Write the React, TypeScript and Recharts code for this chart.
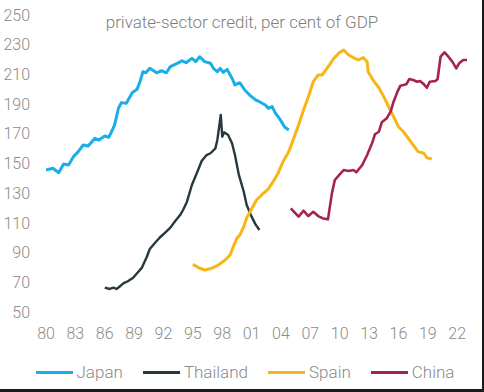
import React from 'react';
import { LineChart, Line, XAxis, YAxis, Legend } from 'recharts';

const title = 'private-sector credit, per cent of GDP';

const xTicks = [1980, 1983, 1986, 1989, 1992, 1995, 1998, 2001, 2004, 2007, 2010, 2013, 2016, 2019, 2022];
const yTicks = [50, 70, 90, 110, 130, 150, 170, 190, 210, 230, 250];

const japanYears = [1980.0, 1980.7, 1981.3, 1981.8, 1982.3, 1982.8, 1983.3, 1983.8, 1984.3, 1985.0, 1985.4, 1986.0, 1986.4, 1986.7, 1987.0, 1987.4, 1987.7, 1988.2, 1988.8, 1989.3, 1989.6, 1989.9, 1990.2, 1990.6, 1991.3, 1991.8, 1992.3, 1992.7, 1993.4, 1993.9, 1994.3, 1994.9, 1995.3, 1995.7, 1996.2, 1996.8, 1997.1, 1997.5, 1997.8, 1998.1, 1998.5, 1999.0, 1999.3, 1999.8, 2000.3, 2000.8, 2001.4, 2001.8, 2002.4, 2002.7, 2003.1, 2003.4, 2003.9, 2004.4, 2004.8];
const japanValues = [145.6, 146.8, 143.8, 149.7, 149.0, 154.6, 158.0, 162.5, 161.8, 167.0, 165.8, 168.5, 167.6, 171.4, 175.9, 187.2, 191.0, 190.5, 197.7, 200.0, 205.1, 211.8, 211.1, 214.1, 211.1, 212.5, 211.1, 215.2, 217.4, 219.2, 217.9, 220.8, 218.6, 221.9, 218.6, 217.5, 214.1, 211.8, 214.1, 211.4, 213.4, 207.4, 202.9, 204.4, 199.5, 196.1, 192.8, 191.6, 189.4, 187.2, 188.3, 184.2, 179.7, 174.4, 172.6];

const thailandYears = [1986.0, 1986.5, 1986.9, 1987.2, 1987.5, 1987.9, 1988.4, 1988.9, 1989.3, 1989.8, 1990.3, 1990.6, 1991.1, 1991.6, 1992.2, 1992.7, 1993.2, 1993.7, 1994.0, 1994.4, 1994.9, 1995.4, 1995.9, 1996.4, 1996.8, 1997.3, 1997.5, 1997.85, 1998.0, 1998.2, 1998.6, 1999.0, 1999.3, 1999.7, 2000.2, 2000.5, 2001.0, 2001.4, 2001.8];
const thailandValues = [66.4, 65.5, 66.4, 65.5, 67.0, 69.3, 70.9, 73.1, 76.1, 79.9, 87.2, 92.4, 96.3, 100.0, 103.7, 106.8, 111.3, 115.3, 118.7, 124.3, 135.5, 143.4, 151.7, 155.7, 156.9, 160.2, 165.8, 182.7, 168.0, 171.0, 169.2, 163.6, 155.7, 142.3, 131.0, 122.0, 114.2, 109.0, 105.2];

const spainYears = [1995.0, 1995.6, 1996.2, 1996.9, 1997.6, 1998.3, 1998.8, 1999.2, 1999.5, 1999.8, 2000.2, 2000.5, 2001.0, 2001.5, 2002.1, 2002.7, 2003.2, 2003.7, 2004.2, 2004.8, 2005.3, 2005.8, 2006.3, 2006.8, 2007.3, 2007.8, 2008.2, 2008.7, 2009.4, 2009.9, 2010.4, 2010.9, 2011.4, 2011.9, 2012.4, 2012.8, 2012.9, 2013.4, 2014.0, 2014.5, 2015.0, 2015.5, 2016.0, 2016.5, 2017.0, 2017.5, 2018.0, 2018.6, 2018.9, 2019.4];
const spainValues = [82.1, 79.8, 78.3, 79.4, 81.6, 85.0, 88.4, 95.1, 99.6, 101.9, 107.4, 113.5, 119.4, 125.4, 129.3, 132.8, 137.8, 143.4, 151.2, 158.0, 167.0, 175.9, 186.0, 195.0, 205.1, 209.6, 209.6, 214.1, 220.8, 224.2, 226.4, 223.1, 221.3, 219.7, 221.3, 218.6, 211.8, 206.2, 201.0, 195.0, 188.2, 181.5, 174.8, 171.4, 167.0, 162.5, 158.0, 156.9, 153.9, 153.0];

const chinaYears = [2005.0, 2005.8, 2006.3, 2006.8, 2007.3, 2007.8, 2008.3, 2008.8, 2009.2, 2009.5, 2010.0, 2010.4, 2010.9, 2011.4, 2011.7, 2012.3, 2012.8, 2013.3, 2013.6, 2014.0, 2014.3, 2014.8, 2015.2, 2015.5, 2015.9, 2016.2, 2016.8, 2017.1, 2017.5, 2017.9, 2018.2, 2018.6, 2018.9, 2019.2, 2019.8, 2020.0, 2020.3, 2020.7, 2021.1, 2021.5, 2021.9, 2022.2, 2022.6, 2023.0];
const chinaValues = [119.8, 114.2, 118.2, 114.6, 117.5, 114.6, 113.0, 112.4, 129.9, 138.9, 142.7, 145.6, 145.0, 145.6, 144.1, 149.0, 155.7, 163.6, 169.7, 171.4, 177.7, 180.4, 184.9, 191.6, 198.4, 202.4, 203.3, 206.9, 206.2, 205.1, 205.6, 203.3, 201.0, 205.1, 205.6, 206.9, 221.9, 224.9, 221.9, 218.6, 214.1, 217.5, 219.7, 219.7];

const seriesNames = ['Japan', 'Thailand', 'Spain', 'China'];
const seriesColors = ['#1AAEE8', '#26393F', '#F6B716', '#A5234F'];
const seriesWidths = [3, 2.4, 3, 2.6];

const toData = (years: number[], values: number[]) =>
  years.map((year, i) => ({ year, value: values[i] }));

const seriesData = [
  toData(japanYears, japanValues),
  toData(thailandYears, thailandValues),
  toData(spainYears, spainValues),
  toData(chinaYears, chinaValues),
];

const FONT = 'Roboto, "Noto Sans", sans-serif';
const TEXT_GREY = '#8a8a8a';

const LegendContent = (props: any) => {
  const payload = [...(props.payload || [])].sort(
    (a: any, b: any) => seriesNames.indexOf(a.value) - seriesNames.indexOf(b.value)
  );
  return (
    <div
      style={{
        display: 'flex',
        justifyContent: 'center',
        alignItems: 'center',
        height: 20,
        paddingLeft: 6,
        fontFamily: FONT,
        fontWeight: 300,
        fontSize: 17,
        color: TEXT_GREY,
      }}
    >
      {payload.map((p: any, i: number) => (
        <div key={i} style={{ display: 'flex', alignItems: 'center', marginLeft: i === 0 ? 0 : 20 }}>
          <div style={{ width: 37, height: 3, background: p.color, marginRight: 4 }} />
          <span>{p.value}</span>
        </div>
      ))}
    </div>
  );
};

export default function App() {
  return (
    <div style={{ position: 'absolute', left: 0, top: 0, width: 484, height: 392, background: '#fff', overflow: 'hidden' }}>
      <div
        style={{
          position: 'absolute',
          left: 0,
          top: 12,
          width: 484,
          textAlign: 'center',
          fontFamily: FONT,
          fontWeight: 300,
          fontSize: 17,
          lineHeight: '20px',
          color: '#7d7d7d',
        }}
      >
        {title}
      </div>
      <LineChart width={484} height={392} margin={{ top: 15, right: 17, bottom: 10, left: 0 }}>
        <XAxis
          type="number"
          dataKey="year"
          domain={[1980, 2023]}
          ticks={xTicks}
          tickFormatter={(v: number) => String(v).slice(2)}
          axisLine={false}
          tickLine={false}
          tickSize={6}
          tickMargin={10}
          height={50}
          allowDataOverflow
          interval={0}
          tick={{ fill: TEXT_GREY, fontSize: 16, fontFamily: FONT, fontWeight: 300 }}
        />
        <YAxis
          type="number"
          domain={[50, 250]}
          ticks={yTicks}
          axisLine={false}
          tickLine={false}
          tickSize={6}
          tickMargin={10}
          width={46}
          interval={0}
          allowDataOverflow
          tick={{ fill: TEXT_GREY, fontSize: 16, fontFamily: FONT, fontWeight: 300 }}
        />
        <Legend
          verticalAlign="bottom"
          height={20}
          itemSorter={null as any}
          wrapperStyle={{ left: 0, width: 484 }}
          content={<LegendContent />}
        />
        {seriesNames.map((name, i) => (
          <Line
            key={name}
            name={name}
            data={seriesData[i]}
            dataKey="value"
            type="linear"
            stroke={seriesColors[i]}
            strokeWidth={seriesWidths[i]}
            dot={false}
            activeDot={false}
            isAnimationActive={false}
            strokeLinejoin="round"
          />
        ))}
      </LineChart>
      <div style={{ position: 'absolute', right: 0, top: 0, width: 2, height: 392, background: '#1c1c1c' }} />
      <div style={{ position: 'absolute', left: 0, bottom: 0, width: 484, height: 3, background: '#1c1c1c' }} />
    </div>
  );
}
